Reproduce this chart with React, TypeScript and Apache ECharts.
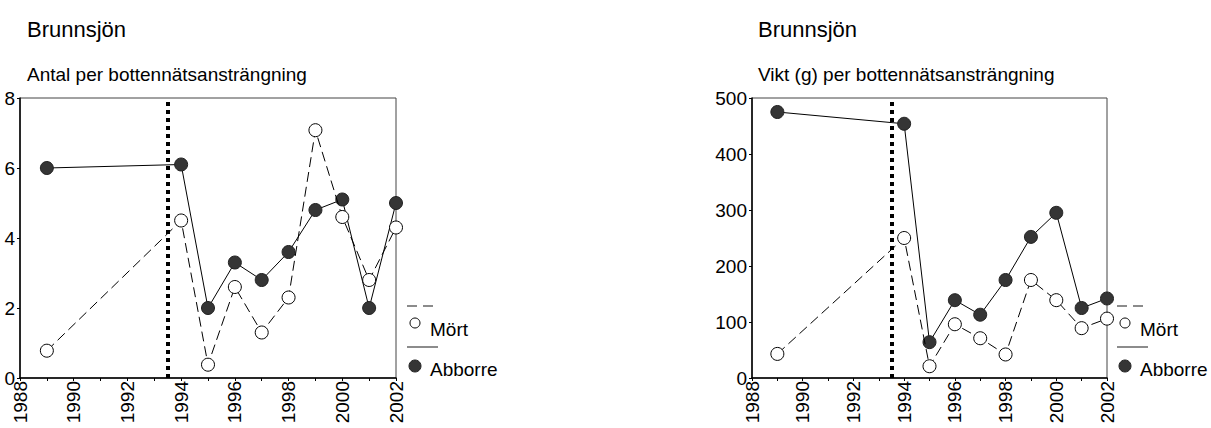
import React, { useEffect, useRef } from "react";
import * as echarts from "echarts";

const years = [1989, 1994, 1995, 1996, 1997, 1998, 1999, 2000, 2001, 2002];
const mortAntal = [0.78, 4.5, 0.38, 2.6, 1.3, 2.3, 7.08, 4.6, 2.8, 4.3];
const abborreAntal = [6.0, 6.1, 2.0, 3.3, 2.8, 3.6, 4.8, 5.1, 2.0, 5.0];
const mortVikt = [43, 250, 21, 96, 71, 42, 175, 139, 89, 106];
const abborreVikt = [475, 454, 64, 139, 113, 175, 252, 295, 125, 142];
const lakeName = "Brunnsjön";
const subtitles = ["Antal per bottennätsansträngning", "Vikt (g) per bottennätsansträngning"];
const seriesNames = ["Mört", "Abborre"];
const breakYear = 1993.5;

const FONT = "'Liberation Sans', Arial, Helvetica, sans-serif";

export default function App() {
  const ref = useRef<HTMLDivElement>(null);
  useEffect(() => {
    document.body.style.margin = "0";
    const chart = echarts.init(ref.current!, null, { renderer: "svg" });
    const pair = (xs: number[], ys: number[]) => xs.map((x, i) => [x, ys[i]]);

    const xAxisBase = (gridIndex: number) => ({
      type: "value",
      gridIndex,
      min: 1988,
      max: 2002,
      interval: 1,
      axisLine: { show: true, lineStyle: { color: "#000", width: 1.5 } },
      axisTick: { show: true, length: 3, lineStyle: { color: "#000" } },
      splitLine: { show: false },
      axisLabel: {
        rotate: 90,
        margin: 3,
        fontSize: 19,
        fontFamily: FONT,
        color: "#000",
        showMinLabel: true,
        showMaxLabel: true,
        formatter: (v: number) => (v % 2 === 0 ? String(v) : ""),
      },
    });
    const yAxisBase = (gridIndex: number, max: number, interval: number) => ({
      type: "value",
      gridIndex,
      min: 0,
      max,
      interval,
      axisLine: { show: true, lineStyle: { color: "#000", width: 1.5 } },
      axisTick: { show: true, length: 3, lineStyle: { color: "#000" } },
      splitLine: { show: false },
      axisLabel: { margin: 5, fontSize: 19, fontFamily: FONT, color: "#000" },
    });

    const mortSeries = (idx: number, data: number[]) => ({
      type: "line",
      name: seriesNames[0],
      xAxisIndex: idx,
      yAxisIndex: idx,
      data: pair(years, data),
      symbol: "circle",
      symbolSize: 13,
      clip: false,
      z: 4,
      lineStyle: { color: "#000", width: 1, type: [10, 5] },
      itemStyle: { color: "#fff", borderColor: "#000", borderWidth: 1 },
    });
    const abborreSeries = (idx: number, data: number[]) => ({
      type: "line",
      name: seriesNames[1],
      xAxisIndex: idx,
      yAxisIndex: idx,
      data: pair(years, data),
      symbol: "circle",
      symbolSize: 13,
      clip: false,
      z: 3,
      lineStyle: { color: "#000", width: 1 },
      itemStyle: { color: "#353535", borderColor: "#222", borderWidth: 1 },
      markLine: {
        silent: true,
        symbol: "none",
        label: { show: false },
        lineStyle: { color: "#000", width: 4, type: [4, 4] },
        data: [{ xAxis: breakYear }],
      },
    });

    const legend = (x0: number) => [
      {
        type: "line",
        shape: { x1: x0, y1: 306, x2: x0 + 31, y2: 306 },
        style: { stroke: "#666", lineWidth: 1.5, lineDash: [10, 6] },
      },
      {
        type: "circle",
        shape: { cx: x0 + 8, cy: 323, r: 5 },
        style: { fill: "#fff", stroke: "#000", lineWidth: 1 },
      },
      {
        type: "text",
        x: x0 + 23,
        y: 329,
        style: { text: seriesNames[0], font: `19px ${FONT}`, fill: "#000", verticalAlign: "middle" },
      },
      {
        type: "line",
        shape: { x1: x0, y1: 347, x2: x0 + 31, y2: 347 },
        style: { stroke: "#666", lineWidth: 1.5 },
      },
      {
        type: "circle",
        shape: { cx: x0 + 8, cy: 366, r: 6 },
        style: { fill: "#353535", stroke: "#222", lineWidth: 1 },
      },
      {
        type: "text",
        x: x0 + 23,
        y: 369,
        style: { text: seriesNames[1], font: `19px ${FONT}`, fill: "#000", verticalAlign: "middle" },
      },
    ];

    chart.setOption({
      animation: false,
      backgroundColor: "#fff",
      title: [
        { text: lakeName, left: 22, top: 13, textStyle: { fontSize: 22, fontWeight: "normal", fontFamily: FONT, color: "#000" } },
        { text: subtitles[0], left: 22, top: 60, textStyle: { fontSize: 19, fontWeight: "normal", fontFamily: FONT, color: "#000" } },
        { text: lakeName, left: 753, top: 13, textStyle: { fontSize: 22, fontWeight: "normal", fontFamily: FONT, color: "#000" } },
        { text: subtitles[1], left: 753, top: 60, textStyle: { fontSize: 19, fontWeight: "normal", fontFamily: FONT, color: "#000" } },
      ],
      grid: [
        { left: 20, top: 98, width: 376, height: 280, show: true, borderColor: "#444", borderWidth: 1, backgroundColor: "transparent" },
        { left: 752, top: 98, width: 355, height: 280, show: true, borderColor: "#444", borderWidth: 1, backgroundColor: "transparent" },
      ],
      xAxis: [xAxisBase(0), xAxisBase(1)],
      yAxis: [yAxisBase(0, 8, 2), yAxisBase(1, 500, 100)],
      series: [
        abborreSeries(0, abborreAntal),
        mortSeries(0, mortAntal),
        abborreSeries(1, abborreVikt),
        mortSeries(1, mortVikt),
      ],
      graphic: [...legend(407), ...legend(1117)],
    });
    return () => chart.dispose();
  }, []);
  return <div ref={ref} style={{ width: 1211, height: 428 }} />;
}
